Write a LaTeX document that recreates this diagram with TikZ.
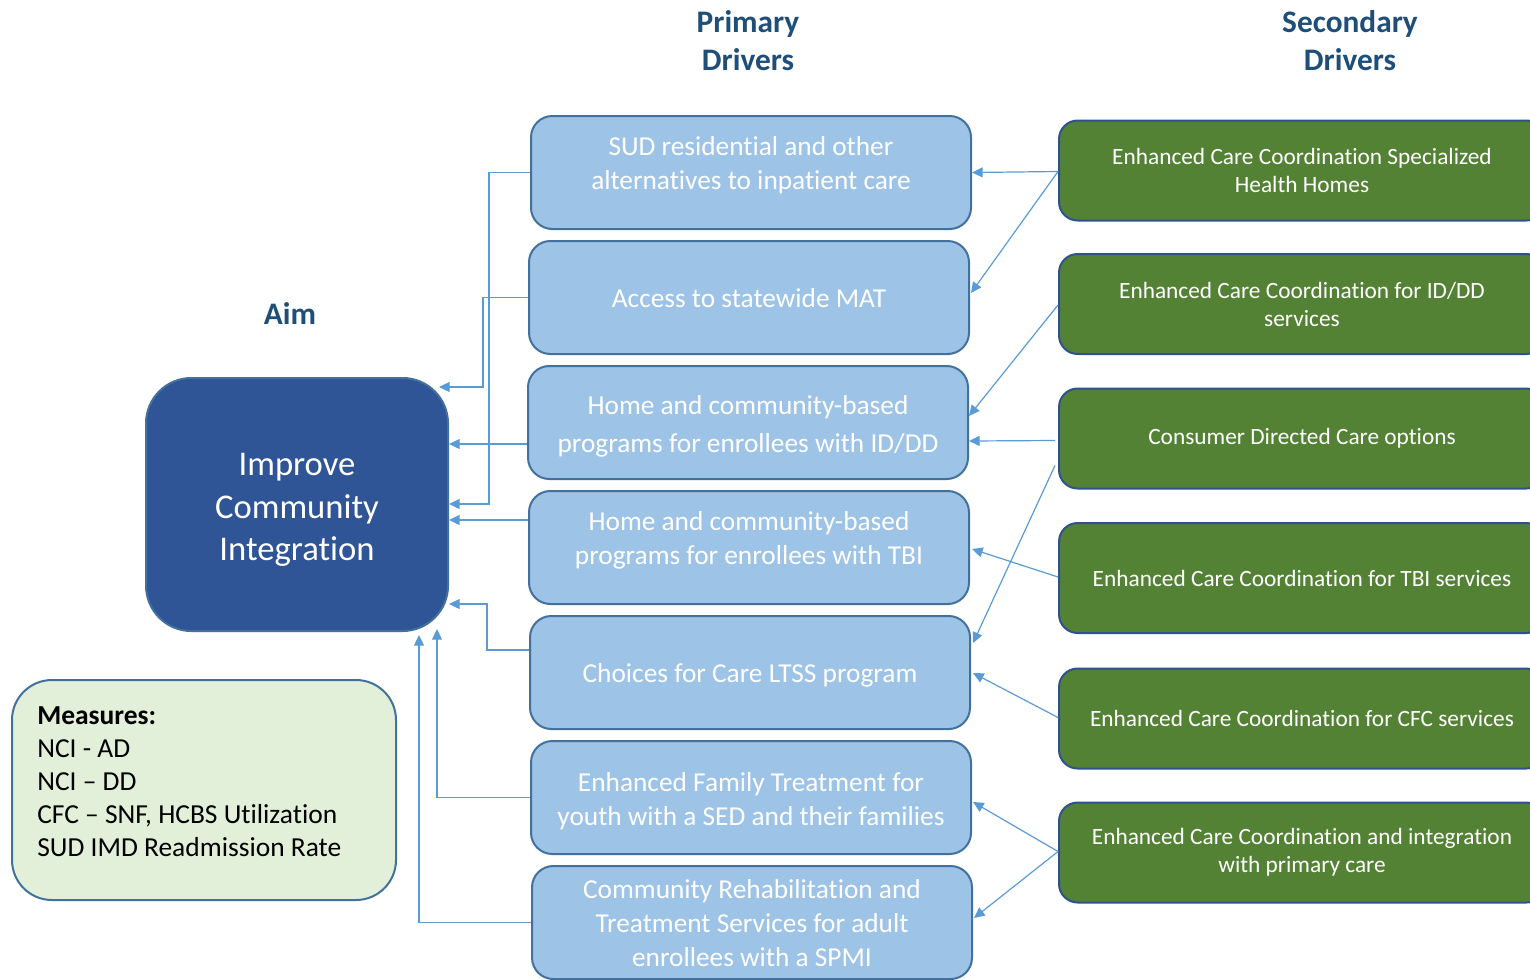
\documentclass[tikz,border=0pt]{standalone}
\usepackage{fontspec}
\setmainfont[Ligatures={NoCommon}]{Carlito}
\usetikzlibrary{arrows.meta,calc}
\definecolor{lightblue}{RGB}{157,195,230}
\definecolor{bordblue}{RGB}{65,113,156}
\definecolor{aimblue}{RGB}{47,85,151}
\definecolor{darkgreen}{RGB}{84,130,53}
\definecolor{greenbord}{RGB}{47,82,143}
\definecolor{paleg}{RGB}{226,240,217}
\definecolor{connblue}{RGB}{91,155,213}
\definecolor{hdrblue}{RGB}{31,78,121}
\begin{document}
\begin{tikzpicture}[x=0.75pt,y=-0.75pt,
  primary/.style={draw=bordblue, line width=1.5pt, fill=lightblue, rounded corners=16pt,
    minimum width=330pt, minimum height=84.75pt, inner sep=0pt},
  ptext/.style={text=white, align=center, font=\fontsize{20.5}{25.5}\selectfont, inner sep=0pt},
  secbox/.style={draw=greenbord, line width=1.5pt, fill=darkgreen, rounded corners=14pt,
    minimum width=364.5pt, minimum height=75pt, text=white, align=center,
    font=\fontsize{17.5}{21}\selectfont, inner sep=0pt},
  aimbox/.style={draw=bordblue, line width=1.5pt, fill=aimblue, rounded corners=34pt,
    minimum width=226.5pt, minimum height=189.75pt, inner sep=0pt},
  aimtext/.style={text=white, align=center, font=\fontsize{26}{32}\selectfont, inner sep=0pt},
  measbox/.style={draw=bordblue, line width=1.5pt, fill=paleg, rounded corners=30pt,
    minimum width=288pt, minimum height=165pt, inner sep=0pt},
  meastext/.style={align=left, inner sep=0pt, font=\fontsize{20.6}{24.75}\selectfont},
  hdr/.style={text=hdrblue, align=center, font=\bfseries\fontsize{23.5}{28.5}\selectfont},
  conn/.style={draw=connblue, line width=0.9pt, -{Triangle[length=8pt,width=7.5pt]}}]
\useasboundingbox (0,0) rectangle (1530,979);
\clip (0,0) rectangle (1530,979);

% headers
\node[hdr] (hprim) at (748,41) {Primary\\Drivers};
\node[hdr] (hsec) at (1350,41) {Secondary\\Drivers};
\node[hdr] (haim) at (290,313) {Aim};

% aim
\node[aimbox] (aim) at (297,504.5) {};
\node[aimtext] (aimt) at ([shift={(0,5.5)}]aim.center) {Improve\\Community\\Integration};

% measures
\node[measbox] (meas) at (204,790) {};
\node[meastext, anchor=west] (meast) at (37,782) {\textbf{Measures:}\\NCI - AD\\NCI -- DD\\CFC -- SNF, HCBS Utilization\\SUD IMD Readmission Rate};

% primary drivers
\node[primary] (p1) at (751,172.5) {};
\node[ptext] (t1) at ([shift={(0,-7)}]p1.center) {SUD residential and other\\alternatives to inpatient care};
\node[primary] (p2) at (749,297.5) {};
\node[ptext] (t2) at ([shift={(0,1)}]p2.center) {Access to statewide MAT};
\node[primary] (p3) at (748,422.5) {};
\node[ptext, font=\fontsize{20.5}{28.5}\selectfont] (t3) at ([shift={(0,4)}]p3.center) {Home and community-based\\programs for enrollees with ID/DD};
\node[primary] (p4) at (749,547.5) {};
\node[ptext] (t4) at ([shift={(0,-7)}]p4.center) {Home and community-based\\programs for enrollees with TBI};
\node[primary] (p5) at (750,672.5) {};
\node[ptext] (t5) at ([shift={(0,3)}]p5.center) {Choices for Care LTSS program};
\node[primary] (p6) at (751,797.5) {};
\node[ptext] (t6) at ([shift={(0,3.5)}]p6.center) {Enhanced Family Treatment for\\youth with a SED and their families};
\node[primary] (p7) at (752,922.5) {};
\node[ptext] (t7) at ([shift={(0,1)}]p7.center) {Community Rehabilitation and\\Treatment Services for adult\\enrollees with a SPMI};

% secondary drivers
\node[secbox] (g1) at (1302,170.5) {Enhanced Care Coordination Specialized\\Health Homes};
\node[secbox] (g2) at (1302,304) {Enhanced Care Coordination for ID/DD\\services};
\node[secbox] (g3) at (1302,438.5) {Consumer Directed Care options};
\node[secbox, minimum height=82.5pt] (g4) at (1302,578) {Enhanced Care Coordination for TBI services};
\node[secbox] (g5) at (1302,718.5) {Enhanced Care Coordination for CFC services};
\node[secbox] (g6) at (1302,852.5) {Enhanced Care Coordination and integration\\with primary care};

% left connectors
\draw[conn] (p1.west) -- ++(-41,0) |- ([shift={(0,-0.5)}]aim.east);
\draw[conn] (p2.west) -- ++(-45,0) |- ([shift={(-10,-117.5)}]aim.east);
\coordinate (p3l) at ([shift={(0,21.5)}]p3.west);
\draw[conn] (p3l) -- (p3l -| aim.east);
\coordinate (p4l) at ([shift={(0,-27.5)}]p4.west);
\draw[conn] (p4l) -- (p4l -| aim.east);
\draw[conn] ([shift={(0,-22.5)}]p5.west) -- ++(-42,0) |- ([shift={(0,99.5)}]aim.east);
\draw[conn] (p6.west) -| ([shift={(140,-3)}]aim.south);
\draw[conn] (p7.west) -| ([shift={(122,3)}]aim.south);

% right connectors
\draw[conn] ([shift={(0,1)}]g1.west) -- (p1.east);
\draw[conn] ([shift={(0,1)}]g1.west) -- ([shift={(1,-4.5)}]p2.east);
\draw[conn] ([shift={(0,1)}]g2.west) -- ([shift={(0,-6.5)}]p3.east);
\draw[conn] ([shift={(-3,2)}]g3.west) -- ([shift={(0,18.5)}]p3.east);
\draw[conn] ([shift={(-3,27)}]g3.west) -- ([shift={(2,-29.5)}]p5.east);
\draw[conn] ([shift={(0,-1)}]g4.west) -- ([shift={(2,1.5)}]p4.east);
\draw[conn] ([shift={(0,-1)}]g5.west) -- ([shift={(2,0.5)}]p5.east);
\draw[conn] ([shift={(0,-1)}]g6.west) -- ([shift={(1,4.5)}]p6.east);
\draw[conn] ([shift={(0,-1)}]g6.west) -- ([shift={(1,-4.5)}]p7.east);
\end{tikzpicture}
\end{document}
